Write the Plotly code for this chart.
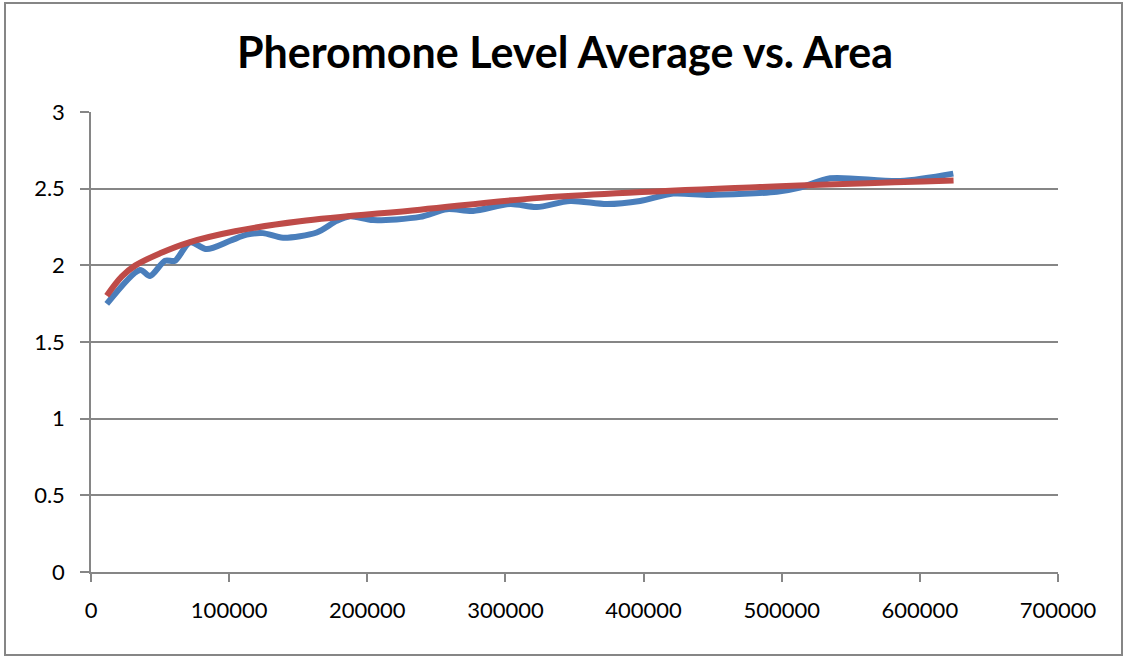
import plotly.graph_objects as go

# Average pheromone level measured at each arena area
area = [11400, 35500, 42700, 53600, 60800, 71700, 83800, 100700, 112700, 124500,
        139000, 163400, 177900, 187500, 204200, 238200, 257600, 276600, 303400,
        322700, 346800, 373400, 397500, 421400, 448200, 496500, 513200, 535100,
        585800, 624200]
pheromone = [1.748, 1.97, 1.93, 2.03, 2.03, 2.15, 2.106, 2.16, 2.20, 2.21,
             2.18, 2.214, 2.29, 2.32, 2.295, 2.316, 2.366, 2.355, 2.40,
             2.38, 2.42, 2.40, 2.42, 2.468, 2.459, 2.48, 2.507, 2.568,
             2.55, 2.598]

# Logarithmic trendline values
trend_area = [11400, 22200, 31900, 50000, 70500, 104300, 151300, 238200,
              325100, 484400, 624400]
trend_level = [1.802, 1.926, 1.998, 2.078, 2.148, 2.222, 2.287, 2.363,
               2.44, 2.511, 2.554]

x_ticks = [0, 100000, 200000, 300000, 400000, 500000, 600000, 700000]
y_ticks = [0, 0.5, 1, 1.5, 2, 2.5, 3]
y_tick_text = ["0", "0.5", "1", "1.5", "2", "2.5", "3"]

W, H = 1125, 657
ML, MR, MT, MB = 91, 67, 112, 85
grid = "#868686"

fig = go.Figure()
fig.add_trace(go.Scatter(
    x=area, y=pheromone, mode="lines",
    line=dict(color="#4A7EBB", width=6, shape="spline", smoothing=0.8),
    showlegend=False, hoverinfo="skip"))
fig.add_trace(go.Scatter(
    x=trend_area, y=trend_level, mode="lines",
    line=dict(color="#BE4B48", width=6, shape="spline", smoothing=1),
    showlegend=False, hoverinfo="skip"))

font = "Lato, 'Open Sans', sans-serif"
fig.update_layout(
    width=W, height=H,
    margin=dict(l=ML, r=MR, t=MT, b=MB),
    paper_bgcolor="white", plot_bgcolor="white",
    title=dict(text="<b>Pheromone Level Average vs. Area</b>",
               x=(233 + 897) / 2 / W, xanchor="center",
               y=1 - 53 / H, yanchor="middle",
               font=dict(family=font, size=43, color="black")),
    xaxis=dict(range=[0, 700000], tickvals=x_ticks,
               ticktext=[str(v) for v in x_ticks],
               showgrid=False, zeroline=False,
               showline=True, linecolor=grid, linewidth=1.5,
               ticks="outside", ticklen=8, tickcolor=grid, tickwidth=1.5,
               ticklabelstandoff=10,
               tickfont=dict(family=font, size=22, color="black")),
    yaxis=dict(range=[0, 3], tickvals=y_ticks, ticktext=y_tick_text,
               showgrid=True, gridcolor=grid, gridwidth=1.5,
               zeroline=False,
               showline=True, linecolor=grid, linewidth=1.5,
               ticks="outside", ticklen=9, tickcolor=grid, tickwidth=1.5,
               ticklabelstandoff=11,
               tickfont=dict(family=font, size=22, color="black")),
)

# Chart-area border around the whole figure
pw, ph = W - ML - MR, H - MT - MB
def px_to_paper_x(px):
    return (px - ML) / pw
def px_to_paper_y(py):
    return (H - MB - py) / ph
fig.add_shape(type="rect", xref="paper", yref="paper",
              x0=px_to_paper_x(5), x1=px_to_paper_x(1122),
              y0=px_to_paper_y(655), y1=px_to_paper_y(3),
              line=dict(color=grid, width=2), fillcolor="rgba(0,0,0,0)",
              layer="below")

fig.write_html("out.html")
